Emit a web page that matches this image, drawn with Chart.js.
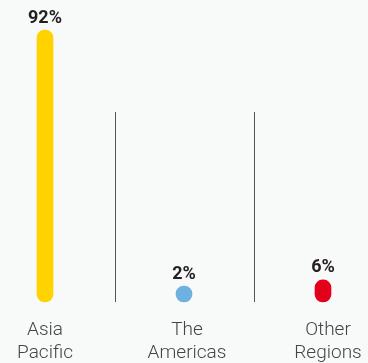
<!DOCTYPE html>
<html>
<head>
<meta charset="utf-8">
<script src="https://cdn.jsdelivr.net/npm/chart.js@4/dist/chart.umd.min.js"></script>
<style>
  html, body { margin: 0; padding: 0; background: #f8f9f9; }
  #wrap { width: 368px; height: 363px; position: relative; }
</style>
</head>
<body>
<div id="wrap"><canvas id="c" width="368" height="363"></canvas></div>
<script>
const categories = [["Asia", "Pacific"], ["The", "Americas"], ["Other", "Regions"]];
const shares = [92, 2, 6];
const valueLabels = ["92%", "2%", "6%"];
const barColors = ["#FFD200", "#6EB1E1", "#E2001A"];

// small horizontal nudges of the category captions (style only)
const captionNudge = [0, 3, 5];

const valueLabelPlugin = {
  id: "valueLabels",
  afterDatasetsDraw(chart) {
    const ctx = chart.ctx;
    const meta = chart.getDatasetMeta(0);
    ctx.save();
    ctx.font = "bold 18px Roboto";
    ctx.fillStyle = "#231f20";
    ctx.textAlign = "center";
    ctx.textBaseline = "middle";
    meta.data.forEach((bar, i) => {
      ctx.fillText(valueLabels[i], bar.x, bar.y - 12);
    });
    ctx.restore();
  }
};

const separatorPlugin = {
  id: "separators",
  beforeDraw(chart) {
    const items = chart.scales.x.getLabelItems();
    items.forEach((it, i) => {
      if (!it._nudged) {
        it.options.translation[0] += captionNudge[i] || 0;
        it._nudged = true;
      }
    });
  },
  beforeDatasetsDraw(chart) {
    const ctx = chart.ctx;
    const x = chart.scales.x;
    const area = chart.chartArea;
    ctx.save();
    ctx.strokeStyle = "#555555";
    ctx.lineWidth = 1;
    for (let i = 0; i < categories.length - 1; i++) {
      const px = Math.round(x.getPixelForValue(i + 0.5)) + 0.5;
      ctx.beginPath();
      ctx.moveTo(px, 112);
      ctx.lineTo(px, area.bottom);
      ctx.stroke();
    }
    ctx.restore();
  }
};

new Chart(document.getElementById("c"), {
  type: "bar",
  data: {
    labels: categories,
    datasets: [{
      data: shares,
      backgroundColor: barColors,
      barThickness: 16,
      borderRadius: 8,
      borderSkipped: false,
      minBarLength: 16,
      base: -1.6,
      clip: false
    }]
  },
  options: {
    responsive: false,
    animation: false,
    events: [],
    layout: { padding: { top: 30, left: 45, right: 45, bottom: 0 } },
    plugins: { legend: { display: false }, tooltip: { enabled: false } },
    scales: {
      x: {
        offset: false,
        grid: { display: false, drawTicks: false },
        border: { display: false },
        ticks: {
          padding: 17,
          color: "#454545",
          font: { family: "Roboto", size: 19, weight: 300, lineHeight: 1.2 },
          maxRotation: 0,
          autoSkip: false
        },
        afterFit(scale) {
          scale.height = 61;
          scale.paddingLeft = 0;
          scale.paddingRight = 0;
        }
      },
      y: {
        display: false,
        min: -1.6,
        max: 92
      }
    }
  },
  plugins: [valueLabelPlugin, separatorPlugin]
});
</script>
</body>
</html>
